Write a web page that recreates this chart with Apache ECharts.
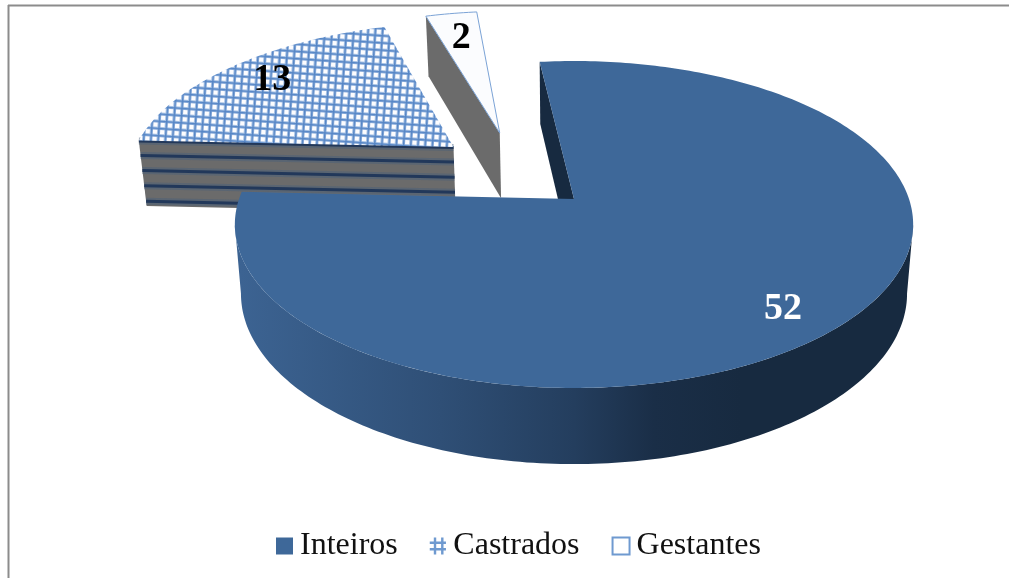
<!DOCTYPE html>
<html>
<head>
<meta charset="utf-8">
<title>Inteiros, Castrados, Gestantes</title>
<script src="https://cdn.jsdelivr.net/npm/echarts@6/dist/echarts.min.js"></script>
<style>
html, body { margin: 0; padding: 0; background: #fff; }
#chart { width: 1009px; height: 578px; }
</style>
</head>
<body>
<div id="chart"></div>
<script>
// dados
var categories = ['Inteiros', 'Castrados', 'Gestantes'];
var values = [52, 13, 2];

var total = values.reduce(function(a, b) { return a + b; }, 0);
var startAngle = 353.2; // graus, sentido horario a partir do norte

// perspectiva do disco
var cx = 574, cy = 199, rx = 335, ry = 159.5, persp = 0.156;
var depthX = 0.018, depthY = 0.043, depthOff = 68;

// deslocamento de cada fatia (u, v) no plano do disco
var explode = [[0, 0], [-0.379, 0.344], [-0.237, 0.4425]];
var labelRadius = [0.84, 0.814, 0.77];
var labelTurn = [5, 0.6, 0];

var blue = '#3e6899', dark = '#172a40', gray = '#6b6b6b', line = '#7ba3d6';

function rad(d) { return d * Math.PI / 180; }

// ponto do disco -> tela; t=0 face de cima, t=1 face de baixo
function project(u, v, t) {
	var w = 1 / (1 + persp * v);
	var dx = rx * u * w, dy = -ry * v * w;
	return [cx + dx * (1 - depthX * t), cy + dy * (1 + depthY * t) + depthOff * t];
}

function onRim(angle, off, t) {
	return project(off[0] + Math.sin(rad(angle)), off[1] + Math.cos(rad(angle)), t);
}

function arc(a0, a1, off, t) {
	var pts = [];
	for (var a = a0; a < a1; a += 1) pts.push(onRim(a, off, t));
	pts.push(onRim(a1, off, t));
	return pts;
}

// limites de cada fatia, saem dos valores
function sliceAngles(index) {
	var a = startAngle;
	for (var i = 0; i < index; i++) a += values[i] / total * 360;
	return [a, a + values[index] / total * 360];
}

function poly(points, style) {
	return { type: 'polygon', silent: true, shape: { points: points }, style: style };
}

// face lateral de um corte (do centro ate a borda)
function cutFace(angle, off, fill) {
	return poly([project(off[0], off[1], 0), onRim(angle, off, 0), onRim(angle, off, 1), project(off[0], off[1], 1)], { fill: fill });
}

function makeHatch() {
	var c = document.createElement('canvas');
	c.width = 7; c.height = 7;
	var g = c.getContext('2d');
	g.fillStyle = '#fdfdff';
	g.fillRect(0, 0, 7, 7);
	g.fillStyle = '#a6c1e4';
	g.fillRect(0, 0, 7, 3);
	g.fillRect(0, 0, 3, 7);
	g.fillStyle = '#5686c6';
	g.fillRect(0, 1, 7, 1.5);
	g.fillRect(1, 0, 1.5, 7);
	return c;
}
var hatch = { image: makeHatch(), repeat: 'repeat', rotation: 0.07, scaleX: 1.03, scaleY: 1.03 };

var wallGradient = {
	type: 'linear', x: 240, y: 0, x2: 908, y2: 0, global: true,
	colorStops: [
		{ offset: 0, color: '#3c6392' },
		{ offset: 0.3, color: '#2f4f76' },
		{ offset: 0.5, color: '#243e5e' },
		{ offset: 0.62, color: '#1a2e47' },
		{ offset: 0.75, color: dark },
		{ offset: 1, color: dark }
	]
};

function labelEl(index, value, fill) {
	var ang = sliceAngles(index), mid = (ang[0] + ang[1]) / 2 + labelTurn[index], off = explode[index], r = labelRadius[index];
	var p = project(off[0] + r * Math.sin(rad(mid)), off[1] + r * Math.cos(rad(mid)), 0);
	return {
		type: 'text', silent: true, z2: 10,
		style: {
			text: String(value), x: p[0], y: p[1], fill: fill,
			font: 'bold 38px "Liberation Serif"', align: 'center', verticalAlign: 'middle'
		}
	};
}

function renderInteiros(params, api) {
	var ang = sliceAngles(0), off = explode[0], ch = [];
	// parede externa entre os dois extremos laterais da elipse
	var side = Math.asin(persp) * 180 / Math.PI;
	ch.push(cutFace(ang[0], off, dark));
	ch.push(poly(arc(90 + side, 270 - side, off, 0).concat(arc(90 + side, 270 - side, off, 1).reverse()), { fill: wallGradient }));
	ch.push(poly([project(off[0], off[1], 0)].concat(arc(ang[0], ang[1], off, 0)), { fill: blue }));
	ch.push(labelEl(0, api.value(0), '#fff'));
	return { type: 'group', children: ch };
}

function renderCastrados(params, api) {
	var ang = sliceAngles(1), off = explode[1], ch = [];
	ch.push(cutFace(ang[0], off, gray));
	// listras escuras da lateral
	[0.01, 0.23, 0.46, 0.69, 0.93].forEach(function(t) {
		var a = onRim(ang[0], off, t), b = project(off[0], off[1], t);
		ch.push({ type: 'line', silent: true, shape: { x1: a[0], y1: a[1], x2: b[0], y2: b[1] }, style: { stroke: '#4a5f79', lineWidth: 7, opacity: 0.5 } });
		ch.push({ type: 'line', silent: true, shape: { x1: a[0], y1: a[1], x2: b[0], y2: b[1] }, style: { stroke: '#22385a', lineWidth: 3 } });
	});
	ch.push(poly([project(off[0], off[1], 0)].concat(arc(ang[0], ang[1], off, 0)), { fill: hatch }));
	ch.push(labelEl(1, api.value(0), '#000'));
	return { type: 'group', children: ch };
}

function renderGestantes(params, api) {
	var ang = sliceAngles(2), off = explode[2], ch = [];
	ch.push(cutFace(ang[0], off, gray));
	ch.push(poly([project(off[0], off[1], 0)].concat(arc(ang[0], ang[1], off, 0)), { fill: '#fbfcfe', stroke: line, lineWidth: 1 }));
	ch.push(labelEl(2, api.value(0), '#000'));
	return { type: 'group', children: ch };
}

var hashIcon = 'path://M5,0H8V5H14V0H17V5H20V8H17V13H20V16H17V21H14V16H8V21H5V16H0V13H5V8H0V5H5ZM8,8V13H14V8Z';

var chart = echarts.init(document.getElementById('chart'));
chart.setOption({
	animation: false,
	backgroundColor: '#fff',
	legend: {
		data: [
			{ name: categories[0], icon: 'rect', itemStyle: { color: blue } },
			{ name: categories[1], icon: hashIcon, itemStyle: { color: '#6f9ad0' } },
			{ name: categories[2], icon: 'rect', itemStyle: { color: '#fff', borderColor: '#6f9ad0', borderWidth: 2 } }
		],
		left: 276, top: 530, padding: 0,
		itemWidth: 17, itemHeight: 17, itemGap: 32,
		selectedMode: false,
		textStyle: { fontFamily: '"Liberation Serif"', fontSize: 32, color: '#111', padding: [0, 0, 0, 2] }
	},
	graphic: [
		{ type: 'line', silent: true, shape: { x1: 8, y1: 5.5, x2: 1009, y2: 5.5 }, style: { stroke: '#8c8c8c', lineWidth: 2 } },
		{ type: 'line', silent: true, shape: { x1: 8.5, y1: 5, x2: 8.5, y2: 578 }, style: { stroke: '#8c8c8c', lineWidth: 2 } }
	],
	series: [
		{ type: 'custom', name: categories[2], coordinateSystem: 'none', data: [values[2]], itemStyle: { color: '#fff' }, renderItem: renderGestantes },
		{ type: 'custom', name: categories[1], coordinateSystem: 'none', data: [values[1]], itemStyle: { color: '#6f9ad0' }, renderItem: renderCastrados },
		{ type: 'custom', name: categories[0], coordinateSystem: 'none', data: [values[0]], itemStyle: { color: blue }, renderItem: renderInteiros }
	]
});
</script>
</body>
</html>
